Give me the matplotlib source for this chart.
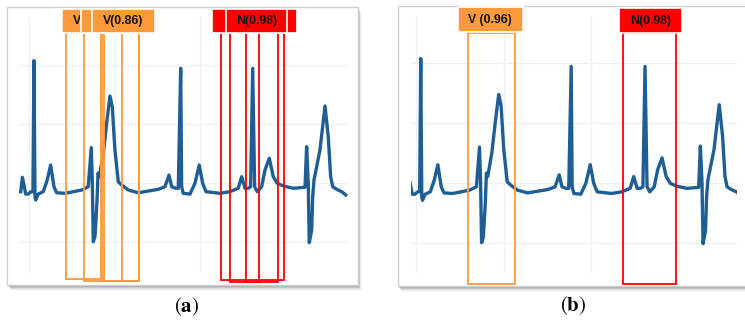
import numpy as np
import matplotlib
matplotlib.use("Agg")
import matplotlib.pyplot as plt
from matplotlib.patches import Rectangle

plt.rcParams['mathtext.fontset'] = 'stix'

# ECG trace (sample index, amplitude in mV)
t_ecg = [90, 92, 94.2, 95.8, 98.8, 102, 104.3, 105.5, 106.7, 107.5,
         110.5, 116.4, 121, 125, 128.9, 132, 141.8, 161.3, 169, 172.5,
         173.7, 174.9, 176.8, 178, 179.2, 180.4, 181.9, 186.6, 190.5, 194.4,
         197.1, 200.2, 204.1, 208, 215.8, 227.5, 250.9, 258.7, 263.4, 266.6,
         271.2, 274.3, 277.1, 278.2, 280.1, 288, 293.8, 298.8, 302.8, 306.7,
         323, 334.7, 344.4, 348.4, 352.3, 356.1, 358.9, 361.3, 363.6, 366.7,
         371.8, 375.7, 380.7, 385.4, 390.1, 397.1, 408.8, 422.5, 424.4, 426.3,
         427.5, 430.3, 431.5, 433, 440, 445.9, 449.7, 452.5, 454.9, 459.5,
         465.4, 470.1]
v_ecg = [-0.076, 0.046, -0.034, -0.096, -0.096, -0.076, -0.076, 1.034, -0.119, -0.147,
         -0.096, -0.076, 0.023, 0.15, -0.034, -0.085, -0.09, -0.062, -0.034, 0.297,
         0.023, -0.5, -0.458, -0.316, -0.161, 0.08, 0.051, 0.249, 0.503, 0.735,
         0.644, 0.277, 0.008, -0.019, -0.062, -0.085, -0.056, -0.034, 0.065, -0.034,
         -0.047, -0.047, 0.969, -0.034, -0.09, -0.096, -0.005, 0.15, -0.005, -0.076,
         -0.09, -0.076, -0.047, 0.051, -0.047, -0.047, -0.034, 0.969, -0.034, -0.076,
         -0.034, 0.108, 0.207, 0.051, -0.005, -0.028, -0.047, -0.039, 0.305, -0.005,
         -0.508, -0.4, -0.119, 0.023, 0.277, 0.65, 0.39, 0.051, -0.034, -0.056,
         -0.076, -0.104]

grid_t = [100, 200, 300, 400]
grid_v = [-0.5, 0, 0.5, 1.0]

# detections in (a): sliding windows (start, end, bottom)
a_v_boxes = [(142.9, 183.5, -0.82), (164.0, 208.1, -0.833),
             (185.4, 228.3, -0.833), (187.7, 228.3, -0.833)]
a_n_boxes = [(323.9, 397.5, -0.827), (334.8, 391.2, -0.842), (353.1, 368.7, -0.842)]
# label tags, drawn in order (later ones cover earlier ones)
a_v_labels = [(137.9, 211.6), (160.5, 234.2), (173.3, 247.0)]
a_n_labels = [(313.3, 385.8), (340.6, 413.1), (330.3, 402.0)]
a_v_text = "V(0.86)"
a_n_text = "N(0.98)"

# detections in (b)
b_v_box = (159.1, 212.7, -0.847)
b_n_box = (335.8, 397.0, -0.842)
b_v_label = (148.0, 221.8)
b_n_label = (331.3, 403.5)
b_v_text = "V (0.96)"
b_n_text = "N(0.98)"

ORANGE = '#ff9a3c'
RED = '#ff0000'
BLUE = '#1f5e95'

W, H = 745, 325
fig = plt.figure(figsize=(W / 100, H / 100), dpi=100)


def px_rect(l, t, r, b):
    return [l / W, 1 - b / H, (r - l) / W, (b - t) / H]


def frame(l, t, r, b):
    # drop shadow then white panel
    for k, a in zip([6, 5, 4, 3, 2, 1], [0.05, 0.08, 0.12, 0.18, 0.25, 0.3]):
        fig.patches.append(Rectangle(((l + k * 0.6) / W, 1 - (b + k) / H), (r - l) / W, (b - t) / H,
                                     transform=fig.transFigure, facecolor='#666666',
                                     edgecolor='none', alpha=a, zorder=0))
    fig.patches.append(Rectangle((l / W, 1 - b / H), (r - l) / W, (b - t) / H,
                                 transform=fig.transFigure, facecolor='white',
                                 edgecolor='#cfcfcf', lw=1, zorder=1))


def setup(ax, xlim, ylim):
    ax.set_zorder(5)
    ax.set_facecolor('none')
    ax.plot(t_ecg, v_ecg, color=BLUE, lw=2.4, zorder=3)
    ax.set_xlim(*xlim)
    ax.set_ylim(*ylim)
    ax.set_xticks(grid_t)
    ax.set_yticks(grid_v)
    ax.grid(True, color='#eef2f7', lw=1)
    ax.tick_params(length=0, labelbottom=False, labelleft=False)
    for s in ax.spines.values():
        s.set_visible(False)


def box(ax, x0, x1, y0, y1, color, z):
    ax.add_patch(Rectangle((x0, y0), x1 - x0, y1 - y0, fill=False, edgecolor=color,
                           lw=1.3, clip_on=False, zorder=z))


def label(ax, x0, x1, y0, y1, color, text, z, visible_to=None):
    ax.add_patch(Rectangle((x0, y0), x1 - x0, y1 - y0, facecolor=color, edgecolor='white',
                           lw=1.2, clip_on=False, zorder=z))
    if text is None:
        return
    txt = ax.text((x0 + x1) / 2, (y0 + y1) / 2, text, ha='center', va='center',
                  fontfamily='Liberation Sans', fontweight='bold', fontsize=8.8,
                  color='#111111', clip_on=False, zorder=z + 0.5)
    if visible_to is not None:
        # tag partly hidden by the next one: keep only its uncovered part
        clip = Rectangle((x0, y0), visible_to - x0, y1 - y0, transform=ax.transData)
        txt.set_clip_path(clip)


# panel (a)
frame(7.3, 6.7, 358, 285)
ax1 = fig.add_axes(px_rect(19, 17, 347.5, 273))
setup(ax1, (88.0, 472.2), (-0.765, 1.404))
for x0, x1, yb in a_v_boxes:
    box(ax1, x0, x1, yb, 1.266, ORANGE, 5)
for x0, x1, yb in a_n_boxes:
    box(ax1, x0, x1, yb, 1.266, RED, 5)
n = len(a_v_labels)
for i, (x0, x1) in enumerate(a_v_labels):
    if i == n - 1:
        label(ax1, x0, x1, 1.266, 1.469, ORANGE, a_v_text, 10 + i)
    elif i == 0:
        label(ax1, x0, x1, 1.266, 1.469, ORANGE, a_v_text, 10 + i,
              visible_to=a_v_labels[1][0])
    else:
        label(ax1, x0, x1, 1.266, 1.469, ORANGE, None, 10 + i)
for i, (x0, x1) in enumerate(a_n_labels):
    label(ax1, x0, x1, 1.266, 1.469, RED, a_n_text if i == len(a_n_labels) - 1 else None, 10 + i)

# panel (b)
frame(398, 6, 770, 286)
ax2 = fig.add_axes(px_rect(411, 17, 737, 273))
setup(ax2, (94.4, 466.2), (-0.7525, 1.381))
box(ax2, b_v_box[0], b_v_box[1], b_v_box[2], 1.245, ORANGE, 5)
box(ax2, b_n_box[0], b_n_box[1], b_n_box[2], 1.245, RED, 5)
label(ax2, b_v_label[0], b_v_label[1], 1.254, 1.462, ORANGE, b_v_text, 10)
label(ax2, b_n_label[0], b_n_label[1], 1.245, 1.453, RED, b_n_text, 10)

fig.text(186.7 / W, 1 - 307 / H, r'($\mathbf{a}$)', ha='center', va='center',
         fontfamily='STIXGeneral', fontsize=15)
fig.text(572.8 / W, 1 - 306 / H, r'($\mathbf{b}$)', ha='center', va='center',
         fontfamily='STIXGeneral', fontsize=15)

fig.savefig('out.png', dpi=100)
